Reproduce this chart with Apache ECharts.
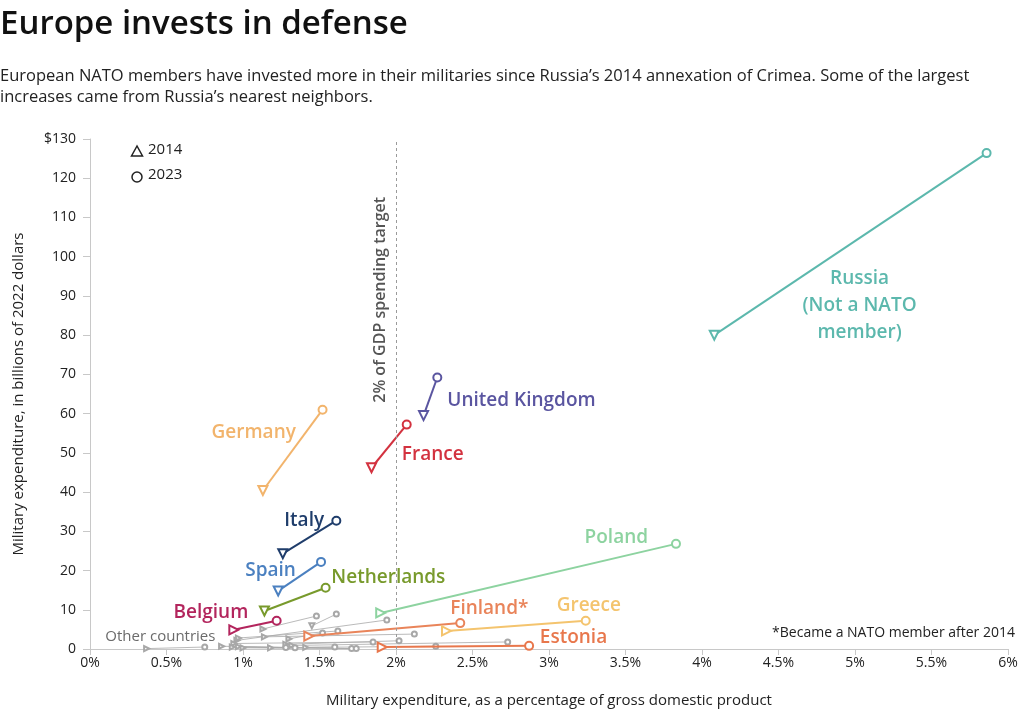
<!DOCTYPE html>
<html>
<head>
<meta charset="utf-8">
<script src="https://cdn.jsdelivr.net/npm/echarts@6/dist/echarts.min.js"></script>
<style>
  html, body { margin: 0; padding: 0; background: #fff; }
  #main { width: 1024px; height: 724px; }
</style>
</head>
<body>
<div id="main"></div>
<script>
// highlighted countries: 2014 -> 2023
const countries = ['Russia', 'United Kingdom', 'France', 'Germany', 'Italy', 'Spain', 'Netherlands', 'Belgium', 'Poland', 'Finland', 'Greece', 'Estonia'];
const countryLabels = ['Russia\n(Not a NATO\nmember)', 'United Kingdom', 'France', 'Germany', 'Italy', 'Spain', 'Netherlands', 'Belgium', 'Poland', 'Finland*', 'Greece', 'Estonia'];
const gdp2014 = [4.08, 2.18, 1.84, 1.13, 1.26, 1.23, 1.14, 0.94, 1.90, 1.43, 2.33, 1.91];
const gdp2023 = [5.86, 2.27, 2.07, 1.52, 1.61, 1.51, 1.54, 1.22, 3.83, 2.42, 3.24, 2.87];
const spend2014 = [80.0, 59.5, 46.2, 40.4, 24.3, 14.8, 9.7, 4.9, 9.2, 3.3, 4.6, 0.5];
const spend2023 = [126.4, 69.2, 57.2, 61.0, 32.7, 22.2, 15.6, 7.2, 26.8, 6.6, 7.2, 0.8];

// other european members (grey)
const otherGdp2014 = [1.13, 1.45, 0.96, 1.14, 0.97, 1.30, 0.94, 1.28, 1.32, 0.37, 0.86, 0.93, 0.97, 1.00, 1.41, 1.18];
const otherGdp2023 = [1.48, 1.61, 1.94, 2.12, 1.62, 1.52, 1.85, 2.02, 2.73, 0.75, 1.28, 1.34, 1.71, 1.74, 2.26, 1.60];
const otherSpend2014 = [5.1, 5.9, 2.2, 3.1, 2.8, 2.6, 1.4, 1.2, 0.9, 0.1, 0.7, 0.5, 0.6, 0.3, 0.4, 0.3];
const otherSpend2023 = [8.4, 8.9, 7.4, 3.8, 4.6, 4.1, 1.8, 2.1, 1.8, 0.5, 0.4, 0.3, 0.1, 0.1, 0.7, 0.5];

const xTicks = ['0%', '0.5%', '1%', '1.5%', '2%', '2.5%', '3%', '3.5%', '4%', '4.5%', '5%', '5.5%', '6%'];
const target = 2;

const colors = ['#5cb8ad', '#5a55a0', '#d3323f', '#f2b46c', '#1f3d6b', '#4b80c0', '#789a2c', '#b3255d', '#8dd3a0', '#e9845a', '#f4c46e', '#e8774c'];
// label anchor, in data units
const labelAt = [[5.03, 87.6], [2.82, 63.3], [2.24, 49.6], [1.07, 55.2], [1.40, 32.7], [1.18, 19.9], [1.95, 18.1], [0.79, 9.2], [3.44, 28.4], [2.61, 10.2], [3.26, 11.0], [3.16, 2.8]];

const FONT = '"Open Sans", sans-serif';

// triangle turns with the slope of the line
function triRotate(x0, y0, x1, y1) {
  let ang = Math.atan2((y1 - y0) * 3.915, (x1 - x0) * 153) * 180 / Math.PI;
  return ang > 20 ? 180 : -90;
}

function pairSeries(name, x0, y0, x1, y1, color, width, triSize, circSize, z) {
  return {
    name: name,
    type: 'line',
    z: z,
    silent: true,
    lineStyle: { color: color, width: width },
    itemStyle: { color: color, borderWidth: width > 1 ? 1.4 : 0.8 },
    showSymbol: true,
    data: [
      { value: [x0, y0], symbol: 'emptyTriangle', symbolSize: triSize, symbolRotate: triRotate(x0, y0, x1, y1) },
      { value: [x1, y1], symbol: 'emptyCircle', symbolSize: circSize }
    ]
  };
}

const chart = echarts.init(document.getElementById('main'));
let series = [];

for (let i = 0; i < otherGdp2014.length; i++) {
  series.push(pairSeries('other' + i, otherGdp2014[i], otherSpend2014[i], otherGdp2023[i], otherSpend2023[i], '#a8a8a8', 0.8, 5, 5, 2));
}
for (let i = 0; i < countries.length; i++) {
  series.push(pairSeries(countries[i], gdp2014[i], spend2014[i], gdp2023[i], spend2023[i], colors[i], 2, 9, 8, 3));
}

// country names
series.push({
  type: 'scatter',
  symbolSize: 0,
  silent: true,
  z: 5,
  itemStyle: { opacity: 1 },
  data: countries.map(function (c, i) {
    return {
      value: labelAt[i],
      label: {
        show: true,
        position: [0, 0],
        align: 'center',
        verticalAlign: 'middle',
        formatter: countryLabels[i],
        color: colors[i],
        fontFamily: FONT,
        fontWeight: 600,
        fontSize: 19,
        lineHeight: 27
      }
    };
  }).concat([
    {
      value: [0.46, 3.1],
      label: {
        show: true, position: [0, 0], align: 'center', verticalAlign: 'middle',
        formatter: 'Other countries', color: '#6b6b6b', fontFamily: FONT, fontSize: 15
      }
    },
    {
      value: [1.9, 89],
      label: {
        show: true, position: [0, 0], align: 'center', verticalAlign: 'middle', rotate: 90,
        formatter: '2% of GDP spending target', color: '#555', fontFamily: FONT, fontWeight: 600, fontSize: 16
      }
    }
  ])
});

// 2% target line
series.push({
  type: 'line',
  data: [],
  markLine: {
    silent: true,
    symbol: 'none',
    label: { show: false },
    lineStyle: { type: [3, 3], color: '#9a9a9a', width: 1 },
    data: [{ xAxis: target }]
  }
});

var option = {
  backgroundColor: '#fff',
  animation: false,
  textStyle: { fontFamily: FONT },
  grid: { left: 90, right: 16, top: 139, bottom: 75 },
  xAxis: {
    type: 'value',
    min: 0, max: 6, interval: 0.5,
    name: 'Military expenditure, as a percentage of gross domestic product',
    nameLocation: 'middle',
    nameGap: 44,
    nameTextStyle: { color: '#222', fontSize: 15, fontFamily: FONT },
    axisLine: { show: true, lineStyle: { color: '#c8c8c8' } },
    axisTick: { show: true, length: 6, lineStyle: { color: '#c8c8c8' } },
    axisLabel: {
      color: '#222', fontSize: 14, margin: 7,
      formatter: function (v) { return xTicks[Math.round(v * 2)]; }
    },
    splitLine: { show: false }
  },
  yAxis: {
    type: 'value',
    min: 0, max: 130, interval: 10,
    name: 'Military expenditure, in billions of 2022 dollars',
    nameLocation: 'middle',
    nameGap: 64,
    nameTextStyle: { color: '#222', fontSize: 15, fontFamily: FONT },
    axisLine: { show: true, lineStyle: { color: '#c8c8c8' } },
    axisTick: { show: true, length: 7, lineStyle: { color: '#c8c8c8' } },
    axisLabel: {
      color: '#222', fontSize: 14, margin: 14,
      formatter: function (v) { return v === 130 ? '$130' : v; }
    },
    splitLine: { show: false }
  },
  graphic: [
    { type: 'text', left: 0, top: 8, style: { text: 'Europe invests in defense', fill: '#111', font: '600 33px ' + FONT } },
    { type: 'text', left: 0, top: 66, style: { text: 'European NATO members have invested more in their militaries since Russia\u2019s 2014 annexation of Crimea. Some of the largest\nincreases came from Russia\u2019s nearest neighbors.', fill: '#222', font: '16.5px ' + FONT, lineHeight: 21 } },
    { type: 'polygon', shape: { points: [[137, 146], [131.5, 156], [142.5, 156]] }, style: { fill: 'none', stroke: '#222', lineWidth: 1.5 } },
    { type: 'text', left: 148, top: 142, style: { text: '2014', fill: '#222', font: '15px ' + FONT } },
    { type: 'circle', shape: { cx: 137, cy: 177, r: 5 }, style: { fill: 'none', stroke: '#222', lineWidth: 1.5 } },
    { type: 'text', left: 148, top: 167, style: { text: '2023', fill: '#222', font: '15px ' + FONT } },
    { type: 'text', right: 9, top: 626, style: { text: '*Became a NATO member after 2014', fill: '#222', font: '14px ' + FONT } }
  ],
  series: series
};

chart.setOption(option);
</script>
</body>
</html>
